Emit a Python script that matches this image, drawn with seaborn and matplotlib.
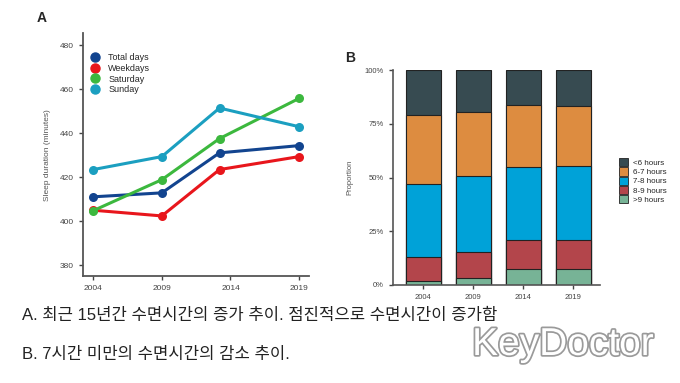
import pandas as pd
import seaborn as sns
import matplotlib.pyplot as plt
import matplotlib.patheffects as pe
from matplotlib.lines import Line2D
from matplotlib.patches import Patch

# data for panel A (sleep duration in minutes)
years = ['2004', '2009', '2014', '2019']
year_pos = [2004, 2009, 2013.2, 2019]
series_names = ['Total days', 'Weekdays', 'Saturday', 'Sunday']
total_days = [411.1, 412.9, 431.1, 434.4]
weekdays = [405.0, 402.4, 423.5, 429.4]
saturday = [404.8, 418.9, 437.6, 455.9]
sunday = [423.5, 429.4, 451.5, 443.0]

# data for panel B (share of respondents, %)
groups = ['<6 hours', '6-7 hours', '7-8 hours', '8-9 hours', '>9 hours']
under6 = [20.9, 19.4, 16.1, 16.6]
h6_7 = [32.3, 29.7, 29.2, 28.1]
h7_8 = [33.9, 35.6, 33.9, 34.5]
h8_9 = [11.0, 12.0, 13.4, 13.4]
over9 = [1.9, 3.3, 7.4, 7.4]

line_colors = ['#12448f', '#e8161c', '#3cb83e', '#1b9fc0']
bar_colors = ['#374b51', '#dd8c40', '#00a2d8', '#b3454b', '#77b396']

sns.set_style('ticks')
plt.rcParams['font.family'] = ['Liberation Sans', 'Noto Sans CJK KR', 'DejaVu Sans']

fig = plt.figure(figsize=(6.8, 3.83), dpi=100)

# ---- panel A
axA = fig.add_axes([0.122, 0.279, 0.332, 0.634])
df_a = pd.DataFrame({
    'year': year_pos * 4,
    'minutes': total_days + weekdays + saturday + sunday,
    'series': [s for s in series_names for _ in years],
})
sns.lineplot(data=df_a, x='year', y='minutes', hue='series', palette=line_colors,
             marker='o', markersize=6.5, markeredgewidth=0, linewidth=2.2,
             legend=False, ax=axA)
axA.set_xlim(2003.25, 2019.7)
axA.set_ylim(375, 485.5)
axA.set_xticks([2004, 2009, 2014, 2019])
axA.set_xticklabels(years)
axA.set_yticks(range(380, 481, 20))
axA.set_xlabel('')
axA.set_ylabel('Sleep duration (minutes)', fontsize=6, color='#555555', labelpad=6)
axA.tick_params(labelsize=6, colors='#444444', length=3, width=1)
for s in ['top', 'right']:
    axA.spines[s].set_visible(False)
for s in ['left', 'bottom']:
    axA.spines[s].set_color('#555555')
    axA.spines[s].set_linewidth(1.3)
handles = [Line2D([], [], marker='o', linestyle='', color=c, markersize=6.5)
           for c in line_colors]
fig.legend(handles, series_names, loc='upper left',
           bbox_to_anchor=(90 / 680, 1 - 53 / 383), borderaxespad=0, borderpad=0,
           frameon=False, fontsize=6.5, handlelength=1.0, handletextpad=1.0,
           labelspacing=0.2)
fig.text(37 / 680, 1 - 18 / 383, 'A', fontsize=10, fontweight='bold', va='center')

# ---- panel B
axB = fig.add_axes([0.5775, 0.256, 0.305, 0.561])
df_b = pd.DataFrame({'year': years, '>9 hours': over9, '8-9 hours': h8_9,
                     '7-8 hours': h7_8, '6-7 hours': h6_7, '<6 hours': under6})
cum = df_b[groups[::-1]].cumsum(axis=1)
for g, c in zip(groups, bar_colors):
    sns.barplot(x=df_b['year'], y=cum[g], color=c, width=0.7, edgecolor='#222222',
                linewidth=0.8, saturation=1, ax=axB)
axB.set_xlim(-0.61, 3.54)
axB.set_ylim(0, 100)
axB.set_yticks([0, 25, 50, 75, 100])
axB.set_yticklabels(['0%', '25%', '50%', '75%', '100%'])
axB.set_xlabel('')
axB.set_ylabel('Proportion', fontsize=5.5, color='#555555', labelpad=8)
axB.tick_params(labelsize=5.5, colors='#444444', length=3, width=1)
for s in ['top', 'right']:
    axB.spines[s].set_visible(False)
for s in ['left', 'bottom']:
    axB.spines[s].set_color('#555555')
    axB.spines[s].set_linewidth(1.2)
patches = [Patch(facecolor=c, edgecolor='#222222', linewidth=0.6) for c in bar_colors]
fig.legend(patches, groups, loc='center left', bbox_to_anchor=(612 / 680, 1 - 181 / 383),
           frameon=False, fontsize=5.8, handlelength=1.1, handleheight=1.2,
           handletextpad=0.6, labelspacing=0.05)
fig.text(345 / 680, 1 - 58 / 383, 'B', fontsize=10, fontweight='bold', va='center')

# ---- captions
fig.text(22 / 680, 1 - 315 / 383, 'A. 최근 15년간 수면시간의 증가 추이. 점진적으로 수면시간이 증가함',
         fontsize=12, va='center', color='#222222')
fig.text(22 / 680, 1 - 354 / 383, 'B. 7시간 미만의 수면시간의 감소 추이.',
         fontsize=12, va='center', color='#222222')
fig.text(563 / 680, 1 - 345 / 383, 'KeyDoctor', fontsize=28, ha='center', va='center',
         color='white', family=['Liberation Sans Narrow', 'Liberation Sans'],
         path_effects=[pe.withStroke(linewidth=2.5, foreground='#9a9a9a')])

fig.savefig('out.png', dpi=100)
